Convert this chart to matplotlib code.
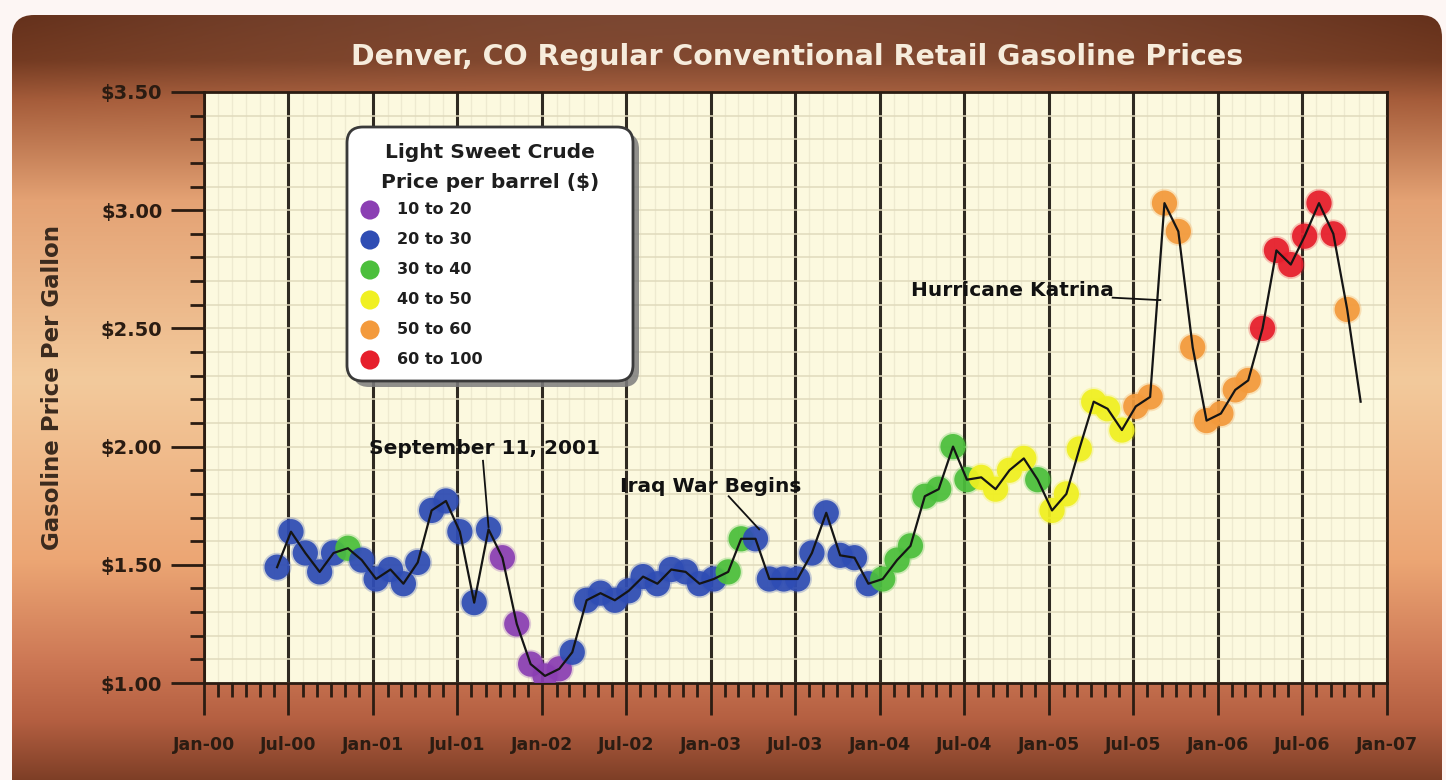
import numpy as np
import pandas as pd
import matplotlib.pyplot as plt
import matplotlib.dates as mdates
from matplotlib.ticker import MultipleLocator
from matplotlib.patches import FancyBboxPatch

plt.rcParams['font.family'] = ['DejaVu Sans']
plt.rcParams['font.weight'] = 'bold'

# Data ==========================================================

# monthly regular gasoline price, Denver CO, Jun-2000 .. Oct-2006
months = pd.date_range("2000-06-01", "2006-10-01", freq="MS") + pd.Timedelta(days=6)
prices = [1.49, 1.64, 1.55, 1.47, 1.55, 1.57, 1.52,
          1.44, 1.48, 1.42, 1.51, 1.73, 1.77, 1.64, 1.34, 1.65, 1.53, 1.25, 1.08,
          1.03, 1.06, 1.13, 1.35, 1.38, 1.35, 1.39, 1.45, 1.42, 1.48, 1.47, 1.42,
          1.44, 1.47, 1.61, 1.61, 1.44, 1.44, 1.44, 1.55, 1.72, 1.54, 1.53, 1.42,
          1.44, 1.52, 1.58, 1.79, 1.82, 2.00, 1.86, 1.87, 1.82, 1.90, 1.95, 1.86,
          1.73, 1.80, 1.99, 2.19, 2.16, 2.07, 2.17, 2.21, 3.03, 2.91, 2.42, 2.11,
          2.14, 2.24, 2.28, 2.50, 2.83, 2.77, 2.89, 3.03, 2.90, 2.58]
# crude price bin per month (index into bin_labels)
crude_bin = [1, 1, 1, 1, 1, 2, 1,
             1, 1, 1, 1, 1, 1, 1, 1, 1, 0, 0, 0,
             0, 0, 1, 1, 1, 1, 1, 1, 1, 1, 1, 1,
             1, 2, 2, 1, 1, 1, 1, 1, 1, 1, 1, 1,
             2, 2, 2, 2, 2, 2, 2, 3, 3, 3, 3, 2,
             3, 3, 3, 3, 3, 3, 4, 4, 4, 4, 4, 4,
             4, 4, 4, 5, 5, 5, 5, 5, 5, 4]
# last reading after the final marker
end_date = pd.Timestamp("2006-11-05")
end_price = 2.19

bin_labels = ["10 to 20", "20 to 30", "30 to 40", "40 to 50", "50 to 60", "60 to 100"]
bin_colors = ["#8b3fb3", "#2f4db4", "#4cbf3c", "#f0f021", "#f39a3c", "#e61e2c"]

events = ["September 11, 2001", "Iraq War Begins", "Hurricane Katrina"]
event_dates = ["2001-09-07", "2003-03-20", "2005-08-29"]

# Figure ========================================================

W, H = 1446, 780
fig = plt.figure(figsize=(W / 100, H / 100), dpi=100)
fig.patch.set_facecolor("#fdf6f4")

# brown gradient frame
bg = fig.add_axes([0, 0, 1, 1])
bg.set_xlim(0, W)
bg.set_ylim(H, 0)
bg.axis("off")
sy = [0, 60, 100, 200, 380, 560, 660, 720, 780]
sc = np.array([(95, 45, 25), (115, 58, 33), (165, 92, 58), (228, 162, 116),
               (243, 202, 156), (236, 166, 116), (205, 120, 85), (180, 95, 65),
               (125, 62, 38)]) / 255
yy = np.arange(H)
col = np.stack([np.interp(yy, sy, sc[:, k]) for k in range(3)], axis=1)
xx = np.linspace(-1, 1, 200)
top_glow = np.clip(1 - yy / 150, 0, 1)[:, None] * (1 - xx**2)[None, :] * 0.1
grad = np.clip(col[:, None, :] + top_glow[:, :, None], 0, 1)
img = bg.imshow(grad, extent=(0, W, H, 0), aspect="auto", interpolation="bilinear")
frame = FancyBboxPatch((12, 15), W - 16, H + 40, boxstyle="round,pad=0,rounding_size=22",
                       facecolor="none", edgecolor="none")
bg.add_patch(frame)
img.set_clip_path(frame)

fig.text(797 / W, 1 - 57 / H, "Denver, CO Regular Conventional Retail Gasoline Prices",
         ha="center", va="center", fontsize=20.5, color="#f6ecdc")

# Main axes =====================================================

ax = fig.add_axes([204 / W, 1 - 683 / H, 1183 / W, 591 / H])
ax.set_facecolor("#fcf9df")
ax.set_axisbelow(True)

dot_colors = [bin_colors[b] for b in crude_bin]
ax.scatter(months, prices, s=430, c=dot_colors, edgecolors="none", alpha=0.25, zorder=3)
ax.scatter(months, prices, s=330, c=dot_colors, edgecolors="none", alpha=0.92, zorder=3)
line_x = list(months) + [end_date]
line_y = prices + [end_price]
ax.plot(line_x, line_y, color="#151515", lw=1.6, zorder=4)

ax.set_xlim(pd.Timestamp("2000-01-01"), pd.Timestamp("2007-01-01"))
ax.set_ylim(1.0, 3.5)

ax.xaxis.set_major_locator(mdates.MonthLocator(bymonth=(1, 7)))
ax.xaxis.set_major_formatter(mdates.DateFormatter("%b-%y"))
ax.xaxis.set_minor_locator(mdates.MonthLocator())
ax.yaxis.set_major_locator(MultipleLocator(0.5))
ax.yaxis.set_minor_locator(MultipleLocator(0.1))
ax.yaxis.set_major_formatter(lambda v, p: f"${v:.2f}")

tc = "#2b1c12"
ax.tick_params(axis="x", which="major", length=23, width=2, color=tc, pad=15,
               labelsize=12.5, labelcolor=tc)
ax.tick_params(axis="x", which="minor", length=10, width=2, color=tc)
ax.tick_params(axis="y", which="major", length=24, width=2, color=tc, pad=6,
               labelsize=14, labelcolor=tc)
ax.tick_params(axis="y", which="minor", length=10, width=2, color=tc)

ax.grid(which="both", axis="y", color="#e0dabc", lw=1.1)
ax.grid(which="minor", axis="x", color="#eeead0", lw=1.0)
ax.grid(which="major", axis="x", color="#2f2a22", lw=2.2)
for s in ax.spines.values():
    s.set_color(tc)
    s.set_linewidth(2)

ax.set_ylabel("Gasoline Price Per Gallon", fontsize=16.5, fontweight="bold", color="#3a2a1e")
ax.yaxis.set_label_coords(-(204 - 64) / 1183, 0.5)

# Annotations ===================================================

ed = [pd.Timestamp(d) for d in event_dates]
ax.text(ed[0] - pd.Timedelta(days=8), 1.99, events[0], ha="center", va="center",
        fontsize=14.5, color="#111111", zorder=6)
ax.plot([ed[0] - pd.Timedelta(days=12), ed[0]], [1.94, 1.66], color="#111111", lw=1.3, zorder=5)

ax.text(ed[1] - pd.Timedelta(days=78), 1.83, events[1], ha="center", va="center",
        fontsize=14.5, color="#111111", zorder=6)
ax.plot([ed[1] - pd.Timedelta(days=40), ed[1] + pd.Timedelta(days=26)], [1.79, 1.65],
        color="#111111", lw=1.3, zorder=5)

ax.text(ed[2] - pd.Timedelta(days=320), 2.66, events[2], ha="center", va="center",
        fontsize=14.5, color="#111111", zorder=6)
ax.plot([ed[2] - pd.Timedelta(days=103), ed[2] - pd.Timedelta(days=5), ed[2]],
        [2.63, 2.62, 2.62], color="#111111", lw=1.3, zorder=5)

# Legend box ====================================================

lx, ly, lw_, lh = 345, 125, 290, 258
lg = fig.add_axes([lx / W, 1 - (ly + lh + 12) / H, (lw_ + 12) / W, (lh + 12) / H])
lg.set_xlim(0, lw_ + 12)
lg.set_ylim(lh + 12, 0)
lg.axis("off")
lg.add_patch(FancyBboxPatch((8, 8), lw_ - 4, lh - 4, boxstyle="round,pad=0,rounding_size=16",
                            facecolor="#7d7d7d", edgecolor="none", alpha=0.85))
lg.add_patch(FancyBboxPatch((2, 2), lw_ - 4, lh - 4, boxstyle="round,pad=0,rounding_size=16",
                            facecolor="white", edgecolor="#3a3a3a", lw=2))
lg.text(145, 28, "Light Sweet Crude", ha="center", va="center", fontsize=14.5, color="#1e1e1e")
lg.text(145, 58, "Price per barrel ($)", ha="center", va="center", fontsize=14.5, color="#1e1e1e")
for i, (lab, c) in enumerate(zip(bin_labels, bin_colors)):
    yy_ = 85 + i * 30
    lg.scatter([25], [yy_], s=190, color=c, edgecolors="none")
    lg.text(52, yy_, lab, ha="left", va="center", fontsize=11.5, color="#1e1e1e")

fig.savefig("out.png", dpi=100, facecolor=fig.get_facecolor())
